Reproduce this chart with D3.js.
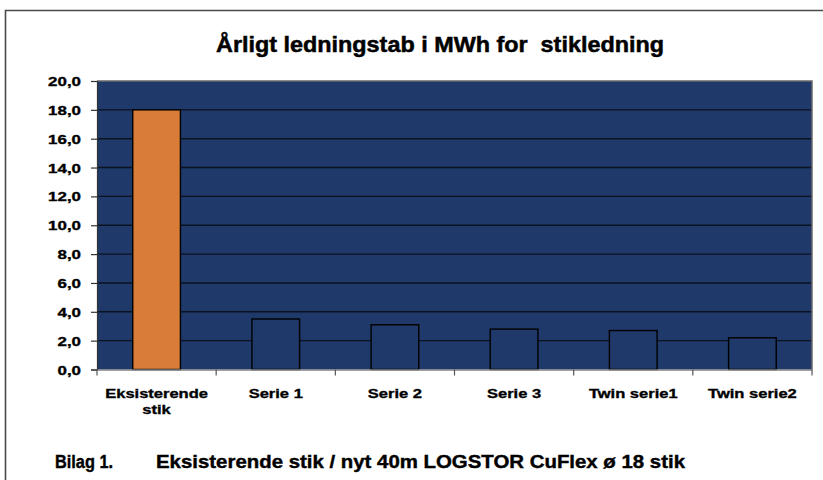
<!DOCTYPE html>
<html><head><meta charset="utf-8">
<script src="https://cdn.jsdelivr.net/npm/d3@7"></script>
<style>
html,body{margin:0;padding:0;background:#fff;}
svg{display:block;font-family:"Liberation Sans",Arial,sans-serif;}
</style></head>
<body><svg id="c" width="823" height="480"></svg>
<script>
const categories = ["Eksisterende stik","Serie 1","Serie 2","Serie 3","Twin serie1","Twin serie2"];
const values = [18.0, 3.5, 3.1, 2.8, 2.7, 2.2];
const yTicks = [0,2,4,6,8,10,12,14,16,18,20];
const title = "Årligt ledningstab i MWh for  stikledning";
const footLeft = "Bilag 1.";
const footRight = "Eksisterende stik / nyt 40m LOGSTOR CuFlex ø 18 stik";

const svg = d3.select("#c");
const L = 97, R = 812, T = 81, B = 369.5;
const x = d3.scaleBand().domain(categories).range([L, R]).paddingInner(0.6).paddingOuter(0.3);
const xb = d3.scaleBand().domain(categories).range([L, R]);
const y = d3.scaleLinear().domain([0, 20]).range([B, T]);
const fmt = d => d.toFixed(1).replace(".", ",");

function stretch(sel, ratio){
  sel.each(function(){
    const w = this.getComputedTextLength();
    d3.select(this).attr("textLength", w*ratio).attr("lengthAdjust","spacingAndGlyphs");
  });
}
function fitTo(sel, width){
  sel.attr("textLength", width).attr("lengthAdjust","spacingAndGlyphs");
}
function heavy(sel, w){
  sel.attr("stroke","#000").attr("stroke-width",w).attr("paint-order","stroke");
}

// outer frame
svg.append("path").attr("d","M5.5,480 V10.5 H823").attr("fill","none").attr("stroke","#4a4a4a").attr("stroke-width",1.6);

// title
const t = svg.append("text").attr("x",440).attr("y",52).attr("text-anchor","middle")
  .attr("font-size",22).attr("font-weight","bold").attr("fill","#000").style("white-space","pre").text(title);
fitTo(t, 448); heavy(t, 0.5);

// plot background
svg.append("rect").attr("x",L).attr("y",T).attr("width",R-L).attr("height",B-T).attr("fill","#1f396a");

// gridlines
svg.append("g").selectAll("line").data(yTicks.filter(d=>d>0 && d<20)).join("line")
  .attr("x1",L).attr("x2",R).attr("y1",d=>y(d)).attr("y2",d=>y(d))
  .attr("stroke","#0b1220").attr("stroke-width",1.4);

// bars
svg.append("g").selectAll("rect").data(values).join("rect")
  .attr("x",(d,i)=>x(categories[i])).attr("width",x.bandwidth())
  .attr("y",d=>y(d)).attr("height",d=>y(0)-y(d))
  .attr("fill",(d,i)=>i===0?"#d97c37":"#1f396a")
  .attr("stroke","#000").attr("stroke-width",1.4);

// plot border (top/right grey)
svg.append("path").attr("d",`M${L},${T} H${R} V${B}`).attr("fill","none").attr("stroke","#6a6a6a").attr("stroke-width",1.5);

// y axis
const ya = svg.append("g").attr("transform",`translate(${L},0)`)
  .call(d3.axisLeft(y).tickValues(yTicks).tickFormat(fmt).tickSize(6).tickPadding(10));
ya.select(".domain").attr("stroke","#333").attr("stroke-width",1.2);
ya.selectAll(".tick line").attr("stroke","#333").attr("stroke-width",1.2);
ya.selectAll("text").attr("font-size",13).attr("font-weight","bold").attr("fill","#000")
  .attr("font-family","'Liberation Sans',Arial,sans-serif").attr("dy","0.35em");
stretch(ya.selectAll("text"), 1.3);
heavy(ya.selectAll("text"), 0.35);

// x axis
const xa = svg.append("g").attr("transform",`translate(0,${B})`)
  .call(d3.axisBottom(xb).tickSize(0).tickFormat(""));
xa.select(".domain").attr("stroke","#808080").attr("stroke-width",1.6);
xa.selectAll(".tick").remove();
const bounds = categories.map(c=>xb(c)).concat([R]);
xa.selectAll("line.tk").data(bounds).join("line").attr("class","tk")
  .attr("x1",d=>d).attr("x2",d=>d).attr("y1",0).attr("y2",6)
  .attr("stroke","#555").attr("stroke-width",1.2);

// x labels
const lab = svg.append("g").selectAll("text").data(categories).join("text")
  .attr("x",d=>xb(d)+xb.bandwidth()/2).attr("y",398).attr("text-anchor","middle")
  .attr("font-size",13).attr("font-weight","bold").attr("fill","#000");
lab.each(function(d){
  const parts = d === "Eksisterende stik" ? ["Eksisterende","stik"] : [d];
  const el = d3.select(this);
  parts.forEach((p,i)=>{
    el.append("tspan").attr("x",xb(d)+xb.bandwidth()/2).attr("dy", i===0?0:16).text(p);
  });
});
lab.selectAll("tspan").each(function(){
  const w = this.getComputedTextLength();
  d3.select(this).attr("textLength", w*1.27).attr("lengthAdjust","spacingAndGlyphs");
});
heavy(lab, 0.35);

// footer
const f1 = svg.append("text").attr("x",55).attr("y",468).attr("font-size",18).attr("font-weight","bold").text(footLeft);
fitTo(f1, 58); heavy(f1, 0.4);
const f2 = svg.append("text").attr("x",156).attr("y",468).attr("font-size",18).attr("font-weight","bold").text(footRight);
fitTo(f2, 529); heavy(f2, 0.4);
</script></body></html>
